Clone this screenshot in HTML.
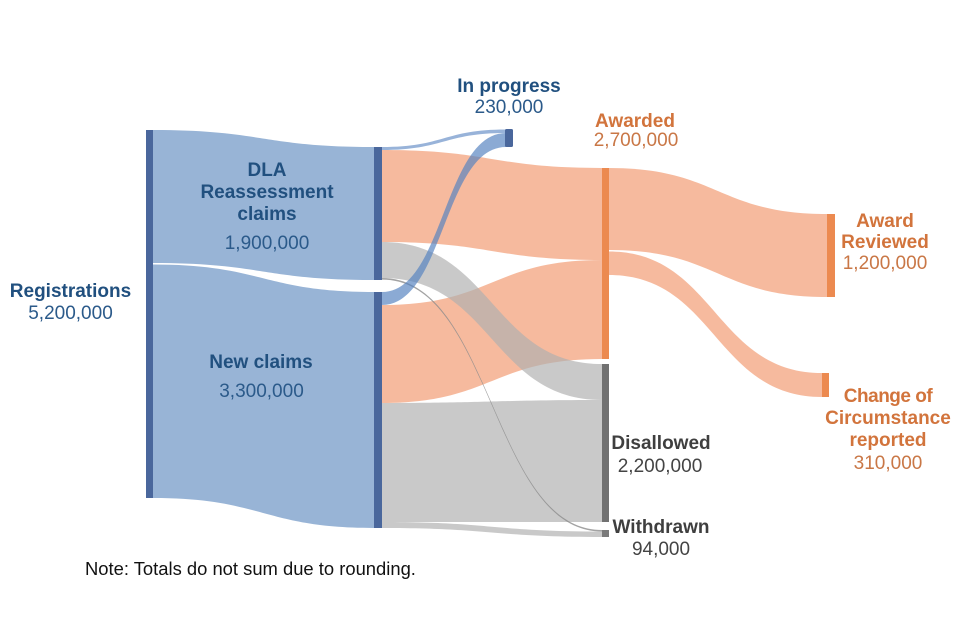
<!DOCTYPE html>
<html><head><meta charset="utf-8"><style>
html,body{margin:0;padding:0;background:#fff;}
svg{display:block;}
text{font-family:"Liberation Sans",Arial,sans-serif;font-size:19px;}
.b{font-weight:bold;}
</style></head><body>
<svg width="960" height="640" viewBox="0 0 960 640" xmlns="http://www.w3.org/2000/svg">
<rect width="960" height="640" fill="#fff"/>
<!-- Registrations -> DLA / New claims -->
<path d="M153 130 C263 130,263 147,374 147 L374 280 C263 280,263 263,153 263 Z" fill="#98b4d6"/>
<path d="M153 264.5 C263 264.5,263 292,374 292 L374 528 C263 528,263 498,153 498 Z" fill="#98b4d6"/>

<!-- DLA / New -> Awarded -->
<path d="M382 150 C492 150,492 168,602 168 L602 260 C492 260,492 242,382 242 Z" fill="rgb(242,153,112)" fill-opacity="0.68"/>
<path d="M382 305 C492 305,492 260,602 260 L602 359 C492 359,492 403,382 403 Z" fill="rgb(242,153,112)" fill-opacity="0.68"/>
<!-- New -> Disallowed -->
<path d="M382 403 C492 403,492 400,602 400 L602 522 C492 522,492 522,382 522 Z" fill="rgb(176,176,176)" fill-opacity="0.68"/>
<!-- DLA -> Disallowed -->
<path d="M382 242 C492 242,492 364,602 364 L602 400 C492 400,492 278,382 278 Z" fill="rgb(176,176,176)" fill-opacity="0.68"/>
<!-- New -> Withdrawn -->
<path d="M382 522 C492 522,492 531.5,602 531.5 L602 537 C492 537,492 528,382 528 Z" fill="rgb(176,176,176)" fill-opacity="0.68"/>
<!-- DLA -> Withdrawn thin -->
<path d="M382 278 C492 278,492 530,602 530 L602 531.5 C492 531.5,492 279.6,382 279.6 Z" fill="rgb(140,140,140)" fill-opacity="0.8"/>
<!-- DLA -> In progress thin -->
<path d="M382 147 C444 147,444 129.5,506 129.5 L506 133 C444 133,444 150,382 150 Z" fill="rgb(84,129,192)" fill-opacity="0.6"/>
<!-- New -> In progress -->
<path d="M382 292 C444 292,444 133,506 133 L506 147 C444 147,444 305,382 305 Z" fill="rgb(84,129,192)" fill-opacity="0.68"/>

<!-- Awarded -> Reviewed / Change -->
<path d="M609 168 C718 168,718 214,827 214 L827 297 C718 297,718 250,609 250 Z" fill="rgb(242,153,112)" fill-opacity="0.68"/>
<path d="M609 251.5 C715 251.5,715 373,822 373 L822 397 C715 397,715 275,609 275 Z" fill="rgb(242,153,112)" fill-opacity="0.68"/>

<!-- Node bars -->
<rect x="146" y="130" width="7" height="368" fill="#4a679c"/>
<rect x="374" y="147" width="8" height="133" fill="#4a679c"/>
<rect x="374" y="292" width="8" height="236" fill="#4a679c"/>
<rect x="505" y="129" width="8" height="18" rx="1.5" fill="#4a679c"/>
<rect x="602" y="168" width="7" height="191" fill="#ec8a50"/>
<rect x="602" y="364" width="7" height="158" fill="#717171"/>
<rect x="602" y="530" width="7" height="7" fill="#7a7a7a"/>
<rect x="827" y="214" width="8" height="83" fill="#ec8a50"/>
<rect x="822" y="373" width="7" height="24" fill="#ec8a50"/>

<!-- Labels -->
<g text-anchor="middle">
<text class="b" x="70.5" y="297" fill="#21507f">Registrations</text>
<text x="70.5" y="319" fill="#2b5a8a">5,200,000</text>

<text class="b" x="267" y="176" fill="#21507f">DLA</text>
<text class="b" x="267" y="198" fill="#21507f">Reassessment</text>
<text class="b" x="267" y="220" fill="#21507f">claims</text>
<text x="267" y="249" fill="#2b5a8a">1,900,000</text>

<text class="b" x="261" y="368" fill="#21507f">New claims</text>
<text x="261.5" y="397" fill="#2b5a8a">3,300,000</text>

<text class="b" x="509" y="92" fill="#21507f">In progress</text>
<text x="509" y="113" fill="#2b5a8a">230,000</text>

<text class="b" x="635" y="127" fill="#d2743c">Awarded</text>
<text x="636" y="146" fill="#c97746">2,700,000</text>

<text class="b" x="885" y="227" fill="#d2743c">Award</text>
<text class="b" x="885" y="248" fill="#d2743c">Reviewed</text>
<text x="885" y="269" fill="#c97746">1,200,000</text>

<text class="b" x="888" y="402" fill="#d2743c" letter-spacing="-0.5">Change of</text>
<text class="b" x="888" y="424" fill="#d2743c">Circumstance</text>
<text class="b" x="888" y="446" fill="#d2743c">reported</text>
<text x="888" y="469" fill="#c97746">310,000</text>

<text class="b" x="661" y="449" fill="#3f3f3f">Disallowed</text>
<text x="660" y="472" fill="#444">2,200,000</text>
<text class="b" x="661" y="533" fill="#3f3f3f">Withdrawn</text>
<text x="661" y="555" fill="#444">94,000</text>
</g>
<text x="85" y="575" fill="#111" style="font-size:18.4px">Note: Totals do not sum due to rounding.</text>
</svg>
</body></html>
